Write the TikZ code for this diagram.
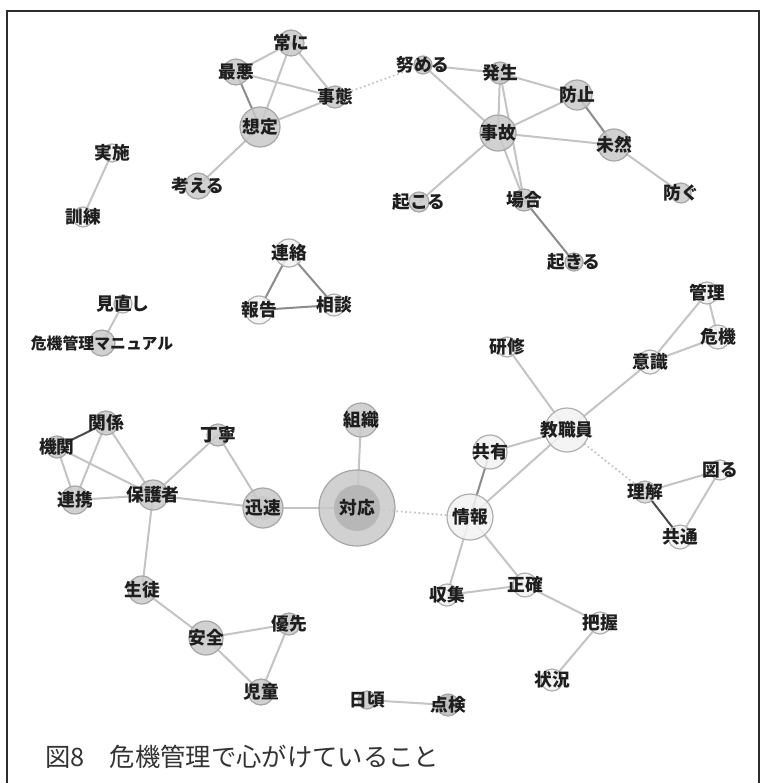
\documentclass[tikz,border=0pt]{standalone}
\usepackage{fontspec}
\setmainfont{Noto Sans CJK JP}
\pgfdeclarelayer{bglayer}
\pgfdeclarelayer{edgelayer}
\pgfsetlayers{bglayer,edgelayer,main}
\definecolor{gfill}{HTML}{C9C9C9}
\definecolor{gbord}{HTML}{A6A6A6}
\definecolor{wfill}{HTML}{F3F3F3}
\definecolor{wbord}{HTML}{AFAFAF}
\definecolor{mfill}{HTML}{DADADA}
\definecolor{innerc}{HTML}{B7B7B7}
\definecolor{edgec}{HTML}{C4C4C4}
\definecolor{darkedge}{HTML}{4A4A4A}
\definecolor{medge}{HTML}{8C8C8C}
\definecolor{txt}{HTML}{1E1E1E}
\definecolor{framec}{HTML}{2E2E2E}
\definecolor{capc}{HTML}{333333}
\tikzset{
  gn/.style={circle, draw=gbord, fill=gfill, fill opacity=0.85, draw opacity=1, line width=0.9pt, inner sep=0pt, minimum size={#1*1.5pt}},
  wn/.style={circle, draw=wbord, fill=wfill, fill opacity=0.85, draw opacity=1, line width=0.9pt, inner sep=0pt, minimum size={#1*1.5pt}},
  mn/.style={circle, draw=wbord, fill=mfill, fill opacity=0.85, draw opacity=1, line width=0.9pt, inner sep=0pt, minimum size={#1*1.5pt}},
  lab/.style={text=txt, text opacity=1, fill opacity=0, draw opacity=0, inner sep=0pt, font=\fontsize{13.3pt}{15pt}\selectfont\bfseries},
  labs/.style={lab, font=\fontsize{11.9pt}{14pt}\selectfont\bfseries},
  ed/.style={draw=edgec, line width=1.5pt},
  edm/.style={draw=medge, line width=1.5pt},
  edd/.style={draw=darkedge, line width=1.5pt},
  edot/.style={draw=edgec, line width=1.3pt, dotted},
}
\begin{document}
\begin{tikzpicture}[x=0.75pt, y=-0.75pt]
\useasboundingbox (0,0) rectangle (764,783);
\begin{pgfonlayer}{bglayer}
\fill[white] (0,0) rectangle (764,783);
\end{pgfonlayer}
\draw[framec, line width=1.6pt] (7,800) -- (7,11) -- (759,11) -- (759,800);

% cluster 1
\node[gn=13, label={[lab]center:常に}] (jouni) at (291,43) {};
\node[gn=13, label={[lab]center:最悪}] (saiaku) at (236,72) {};
\node[gn=11, label={[lab]center:事態}] (jitai) at (335,97) {};
\node[gn=20, label={[lab]center:想定}] (soutei) at (260,127) {};
\node[gn=13, label={[lab]center:考える}] (kangaeru) at (198,186) {};
% cluster 2
\node[gn=9, label={[lab]center:努める}] (tsutomeru) at (423,65) {};
\node[gn=11, label={[lab]center:発生}] (hassei) at (500,73) {};
\node[gn=15, label={[lab]center:防止}] (boushi) at (577,95) {};
\node[gn=18, label={[lab]center:事故}] (jiko) at (498,133) {};
\node[gn=16, label={[lab]center:未然}] (mizen) at (614,145) {};
\node[gn=10, label={[lab]center:防ぐ}] (fusegu) at (681,193) {};
\node[gn=10, label={[lab]center:起こる}] (okoru) at (419,202) {};
\node[gn=11, label={[lab]center:場合}] (baai) at (524,200) {};
\node[gn=9, label={[lab]center:起きる}] (okiru) at (574,262) {};
% small clusters
\node[wn=9, label={[lab]center:実施}] (jisshi) at (112,153) {};
\node[wn=10, label={[lab]center:訓練}] (kunren) at (83,217) {};
\node[wn=14, label={[lab]center:連絡}] (renraku) at (289,253) {};
\node[wn=14, label={[lab]center:報告}] (houkoku) at (259,310) {};
\node[wn=11, label={[lab]center:相談}] (soudan) at (334,305) {};
\node[wn=9, label={[lab]center:見直し}] (minaoshi) at (123,304) {};
\node[gn=13, label={[labs]center:危機管理マニュアル}] (manual) at (102,343) {};
% right cluster
\node[wn=11, label={[lab]center:管理}] (kanri) at (707,293) {};
\node[wn=12, label={[lab]center:危機}] (kiki) at (718,337) {};
\node[wn=12, label={[lab]center:意識}] (ishiki) at (650,362) {};
\node[wn=10, label={[lab]center:研修}] (kenshu) at (507,347) {};
\node[wn=22, label={[lab]center:教職員}] (kyoshokuin) at (567,430) {};
\node[wn=17, label={[lab]center:共有}] (kyouyuu) at (490,452) {};
\node[wn=23, label={[lab]center:情報}] (jouhou) at (470,517) {};
\node[wn=10, label={[lab]center:図る}] (hakaru) at (720,470) {};
\node[mn=11, label={[lab]center:理解}] (rikai) at (645,492) {};
\node[wn=12, label={[lab]center:共通}] (kyoutsu) at (680,537) {};
\node[wn=11, label={[lab]center:収集}] (shuushuu) at (447,595) {};
\node[wn=12, label={[lab]center:正確}] (seikaku) at (525,585) {};
\node[wn=11, label={[lab]center:把握}] (haaku) at (600,623) {};
\node[wn=11, label={[lab]center:状況}] (joukyou) at (552,680) {};
% left-bottom cluster
\node[gn=12, label={[lab]center:関係}] (kankei) at (106,423) {};
\node[gn=11, label={[lab]center:機関}] (kikan) at (57,447) {};
\node[gn=14, label={[lab]center:連携}] (renkei) at (75,500) {};
\node[gn=15, label={[lab]center:保護者}] (hogosha) at (153,495) {};
\node[gn=11, label={[lab]center:丁寧}] (teinei) at (218,435) {};
\node[gn=20] (jinsoku) at (263,508) {};
\node[gn=12, draw opacity=0, label={[lab]center:迅速}] (jinsokuin) at (263,508) {};
\node[gn=38] (taiou) at (357,508) {};
\node[circle, fill=innerc, inner sep=0pt, minimum size={23*1.5pt}, label={[lab]center:対応}] (taiouin) at (357,508) {};
\node[gn=17, label={[lab]center:組織}] (soshiki) at (361,420) {};
\node[gn=14, label={[lab]center:生徒}] (seito) at (142,590) {};
\node[gn=17, label={[lab]center:安全}] (anzen) at (206,638) {};
\node[gn=11, label={[lab]center:優先}] (yuusen) at (289,624) {};
\node[gn=13, label={[lab]center:児童}] (jidou) at (261,692) {};
\node[gn=9, label={[lab]center:日頃}] (higoro) at (367,700) {};
\node[gn=11, fill=innerc, label={[lab]center:点検}] (tenken) at (448,705) {};

\node[anchor=west, text=capc, inner sep=0pt, font=\fontsize{19pt}{22pt}\selectfont] (caption) at (45,757) {図8　危機管理で心がけていること};

\begin{pgfonlayer}{edgelayer}
\draw[ed] (jouni.center) -- (saiaku.center);
\draw[ed] (jouni.center) -- (jitai.center);
\draw[ed] (jouni.center) -- (soutei.center);
\draw[ed] (saiaku.center) -- (jitai.center);
\draw[edm] (saiaku.center) -- (soutei.center);
\draw[ed] (soutei.center) -- (jitai.center);
\draw[ed] (soutei.center) -- (kangaeru.center);
\draw[edot] (jitai.center) -- (tsutomeru.center);
\draw[ed] (tsutomeru.center) -- (hassei.center);
\draw[ed] (tsutomeru.center) -- (jiko.center);
\draw[ed] (hassei.center) -- (jiko.center);
\draw[ed] (hassei.center) -- (boushi.center);
\draw[ed] (hassei.center) -- (baai.center);
\draw[ed] (jiko.center) -- (boushi.center);
\draw[ed] (jiko.center) -- (mizen.center);
\draw[ed] (jiko.center) -- (okoru.center);
\draw[ed] (jiko.center) -- (baai.center);
\draw[edm] (boushi.center) -- (mizen.center);
\draw[ed] (mizen.center) -- (fusegu.center);
\draw[edm] (baai.center) -- (okiru.center);
\draw[ed] (jisshi.center) -- (kunren.center);
\draw[edm] (renraku.center) -- (houkoku.center);
\draw[edm] (renraku.center) -- (soudan.center);
\draw[edm] (houkoku.center) -- (soudan.center);
\draw[ed] (minaoshi.center) -- (manual.center);
\draw[ed] (kanri.center) -- (kiki.center);
\draw[ed] (kanri.center) -- (ishiki.center);
\draw[ed] (kiki.center) -- (ishiki.center);
\draw[ed] (ishiki.center) -- (kyoshokuin.center);
\draw[ed] (kenshu.center) -- (kyoshokuin.center);
\draw[ed] (kyoshokuin.center) -- (kyouyuu.center);
\draw[ed] (kyoshokuin.center) -- (jouhou.center);
\draw[edot] (kyoshokuin.center) -- (rikai.center);
\draw[ed] (rikai.center) -- (hakaru.center);
\draw[edd] (rikai.center) -- (kyoutsu.center);
\draw[ed] (hakaru.center) -- (kyoutsu.center);
\draw[edm] (jouhou.center) -- (kyouyuu.center);
\draw[ed] (jouhou.center) -- (shuushuu.center);
\draw[ed] (jouhou.center) -- (seikaku.center);
\draw[ed] (shuushuu.center) -- (seikaku.center);
\draw[ed] (seikaku.center) -- (haaku.center);
\draw[ed] (haaku.center) -- (joukyou.center);
\draw[edd] (kankei.center) -- (kikan.center);
\draw[ed] (kankei.center) -- (renkei.center);
\draw[ed] (kankei.center) -- (hogosha.center);
\draw[ed] (kikan.center) -- (renkei.center);
\draw[ed] (kikan.center) -- (hogosha.center);
\draw[ed] (renkei.center) -- (hogosha.center);
\draw[ed] (hogosha.center) -- (teinei.center);
\draw[ed] (hogosha.center) -- (jinsoku.center);
\draw[ed] (hogosha.center) -- (seito.center);
\draw[ed] (teinei.center) -- (jinsoku.center);
\draw[ed] (jinsoku.center) -- (taiou.center);
\draw[ed] (taiou.center) -- (soshiki.center);
\draw[edot] (taiou.center) -- (jouhou.center);
\draw[ed] (seito.center) -- (anzen.center);
\draw[ed] (anzen.center) -- (yuusen.center);
\draw[ed] (anzen.center) -- (jidou.center);
\draw[ed] (yuusen.center) -- (jidou.center);
\draw[ed] (higoro.center) -- (tenken.center);
\end{pgfonlayer}
\end{tikzpicture}
\end{document}
